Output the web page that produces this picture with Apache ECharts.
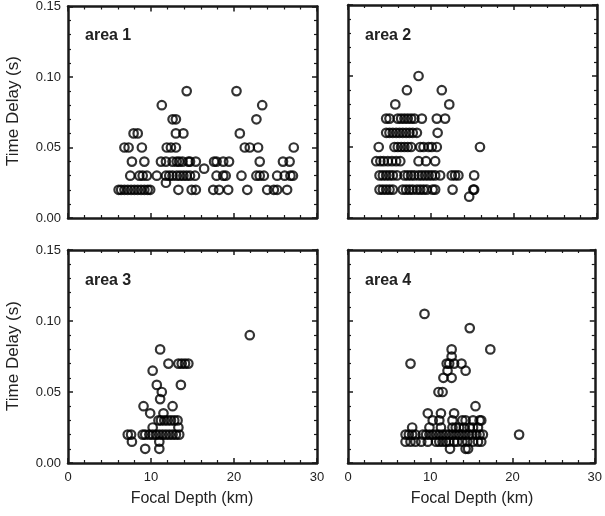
<!DOCTYPE html>
<html>
<head>
<meta charset="utf-8">
<script src="https://cdn.jsdelivr.net/npm/echarts@6/dist/echarts.min.js"></script>
<style>html,body{margin:0;padding:0;background:#fff}#c{width:605px;height:516px}</style>
</head>
<body>
<div id="c"></div>
<script>
// ---- Data: time delay levels and focal depths (km) observed at each level ----
const panelNames = ['area 1', 'area 2', 'area 3', 'area 4'];
const xTicks = [0, 10, 20, 30];
const yTicks = [0.00, 0.05, 0.10, 0.15];

const area1Levels = [0.02, 0.025, 0.03, 0.035, 0.04, 0.05, 0.06, 0.07, 0.08, 0.09];
const area1Depths = [
  [6.1, 6.4, 6.8, 7.2, 7.6, 8.0, 8.4, 8.8, 9.2, 9.6, 9.9, 13.3, 14.9, 15.4, 17.5, 18.2, 19.3, 21.6, 24.0, 24.8, 25.2, 26.4],
  [11.8],
  [7.5, 8.6, 9.0, 9.5, 10.7, 11.8, 12.2, 12.6, 13.1, 13.5, 13.9, 14.3, 14.7, 15.3, 17.9, 18.7, 19.0, 20.9, 22.7, 23.1, 23.6, 25.2, 26.1, 26.8, 27.1],
  [16.4],
  [7.7, 9.2, 11.2, 11.8, 12.6, 13.1, 13.4, 13.8, 14.5, 14.7, 15.4, 17.6, 17.9, 18.7, 19.4, 23.1, 25.9, 26.7],
  [6.8, 7.3, 8.9, 11.9, 12.4, 13.0, 21.3, 21.9, 22.9, 27.2],
  [7.9, 8.4, 13.0, 13.9, 20.7],
  [12.6, 13.0, 22.7],
  [11.3, 23.4],
  [14.3, 20.3]
];

const area2Levels = [0.015, 0.02, 0.03, 0.04, 0.05, 0.06, 0.07, 0.08, 0.09, 0.10];
const area2Depths = [
  [14.6],
  [3.8, 4.2, 4.6, 5.0, 5.4, 6.6, 7.0, 7.4, 7.8, 8.3, 8.7, 9.1, 9.5, 10.2, 10.5, 12.6, 15.1, 15.2],
  [3.8, 4.2, 4.6, 5.0, 5.4, 5.9, 6.8, 7.2, 7.6, 8.0, 8.5, 8.9, 9.3, 9.7, 10.1, 10.5, 11.1, 12.5, 12.9, 13.3, 15.2],
  [3.4, 3.9, 4.3, 4.8, 5.3, 5.8, 6.3, 8.5, 9.4, 10.5],
  [3.7, 5.6, 6.0, 6.4, 6.8, 7.2, 7.6, 8.7, 9.1, 9.7, 10.1, 10.7, 15.9],
  [4.6, 5.0, 5.4, 5.8, 6.2, 6.6, 7.0, 7.4, 7.8, 8.3, 10.8],
  [4.6, 5.0, 6.0, 6.4, 6.8, 7.2, 7.6, 8.0, 8.9, 10.7, 11.7],
  [5.7, 12.2],
  [7.1, 11.3],
  [8.5]
];

const area3Levels = [0.01, 0.015, 0.02, 0.025, 0.03, 0.035, 0.04, 0.045, 0.05, 0.055, 0.065, 0.07, 0.08, 0.09];
const area3Depths = [
  [9.3, 11.0],
  [7.7, 11.0],
  [7.2, 7.6, 9.0, 9.3, 9.8, 10.2, 10.6, 11.0, 11.4, 11.8, 12.2, 12.6, 13.0, 13.4],
  [10.2, 13.3],
  [10.9, 11.2, 11.6, 12.0, 12.4, 12.8, 13.2],
  [9.9, 11.5],
  [9.1, 12.6],
  [11.1],
  [11.3],
  [10.7, 13.6],
  [10.2],
  [12.1, 13.3, 13.7, 14.1, 14.5],
  [11.1],
  [21.9]
];

const area4Levels = [0.01, 0.015, 0.02, 0.025, 0.03, 0.035, 0.04, 0.05, 0.06, 0.065, 0.07, 0.075, 0.08, 0.095, 0.105];
const area4Depths = [
  [12.4, 14.3, 14.6],
  [7.0, 7.6, 8.2, 8.9, 9.7, 10.7, 11.1, 11.5, 11.9, 12.3, 12.9, 13.3, 13.9, 14.5, 15.2, 15.8, 16.2],
  [7.0, 7.4, 7.8, 8.2, 9.1, 9.5, 9.9, 10.3, 10.7, 11.1, 11.5, 11.9, 12.3, 12.7, 13.1, 13.5, 13.9, 14.3, 14.7, 15.1, 15.6, 16.0, 16.4, 20.8],
  [7.8, 9.9, 11.3, 12.7, 13.1, 13.5, 14.1, 14.8, 15.2, 15.8],
  [10.3, 11.1, 12.7, 13.9, 14.3, 15.2, 16.0, 16.2],
  [9.7, 11.3, 12.9],
  [15.5],
  [11.0, 11.5],
  [11.6, 12.6],
  [12.1, 14.3],
  [7.6, 12.0, 12.3, 12.9, 13.8],
  [12.6],
  [12.6, 17.3],
  [14.8],
  [9.3]
];

// ---- Build chart ----
const FONT = '"Liberation Sans", Arial, Helvetica, sans-serif';
const INK = '#1a1a1a';
const panels = [
  { levels: area1Levels, depths: area1Depths, left: 68, top: 5, xl: false, yl: true },
  { levels: area2Levels, depths: area2Depths, left: 348, top: 5, xl: false, yl: false },
  { levels: area3Levels, depths: area3Depths, left: 68, top: 250, xl: true, yl: true },
  { levels: area4Levels, depths: area4Depths, left: 348, top: 250, xl: true, yl: false }
];
const PW = 249, PH = 213;

const grid = [], xAxis = [], yAxis = [], series = [], graphic = [];
const lineStyle = { color: INK, width: 2.5 };

panels.forEach((p, i) => {
  grid.push({ left: p.left, top: p.top, width: PW, height: PH, containLabel: false });
  ['bottom', 'top'].forEach((pos) => {
    xAxis.push({
      type: 'value', gridIndex: i, position: pos,
      min: xTicks[0], max: xTicks[xTicks.length - 1], interval: xTicks[1] - xTicks[0],
      axisLine: { show: true, onZero: false, lineStyle },
      axisTick: { show: true, inside: true, length: 5, lineStyle: { color: INK, width: 1.5 } },
      minorTick: { show: true, splitNumber: 5, length: 3, lineStyle: { color: INK, width: 1.2 } },
      splitLine: { show: false },
      axisLabel: { show: pos === 'bottom' && p.xl, fontFamily: FONT, fontSize: 13, color: '#222', margin: 8 }
    });
  });
  ['left', 'right'].forEach((pos) => {
    yAxis.push({
      type: 'value', gridIndex: i, position: pos,
      min: yTicks[0], max: yTicks[yTicks.length - 1], interval: yTicks[1] - yTicks[0],
      axisLine: { show: true, onZero: false, lineStyle },
      axisTick: { show: true, inside: true, length: 5, lineStyle: { color: INK, width: 1.5 } },
      minorTick: { show: true, splitNumber: 5, length: 3, lineStyle: { color: INK, width: 1.2 } },
      splitLine: { show: false },
      axisLabel: { show: pos === 'left' && p.yl, fontFamily: FONT, fontSize: 13, color: '#222', margin: 7,
        formatter: (v) => v.toFixed(2) }
    });
  });
  const data = [];
  p.levels.forEach((lv, k) => p.depths[k].forEach((d) => data.push([d, lv])));
  series.push({
    type: 'scatter', xAxisIndex: i * 2, yAxisIndex: i * 2, data,
    symbol: 'circle', symbolSize: 8.5,
    itemStyle: { color: 'rgba(0,0,0,0)', borderColor: '#000', borderWidth: 2.2 },
    silent: true, animation: false
  });
  graphic.push({
    type: 'text', left: p.left + 17, top: p.top + 23,
    style: { text: panelNames[i], font: 'bold 16px ' + FONT, fill: '#222' }
  });
});

// Axis titles
[111, 356].forEach((cy) => {
  graphic.push({
    type: 'text', x: 13, y: cy, rotation: Math.PI / 2,
    style: { text: 'Time Delay (s)', font: '17px ' + FONT, fill: '#222', textAlign: 'center', textVerticalAlign: 'middle' }
  });
});
[192, 472].forEach((cx) => {
  graphic.push({
    type: 'text', x: cx, y: 499,
    style: { text: 'Focal Depth (km)', font: '16px ' + FONT, fill: '#222', textAlign: 'center', textVerticalAlign: 'middle' }
  });
});

const chart = echarts.init(document.getElementById('c'), null, { renderer: 'canvas' });
chart.setOption({ animation: false, backgroundColor: '#fff', grid, xAxis, yAxis, series, graphic });
</script>
</body>
</html>
